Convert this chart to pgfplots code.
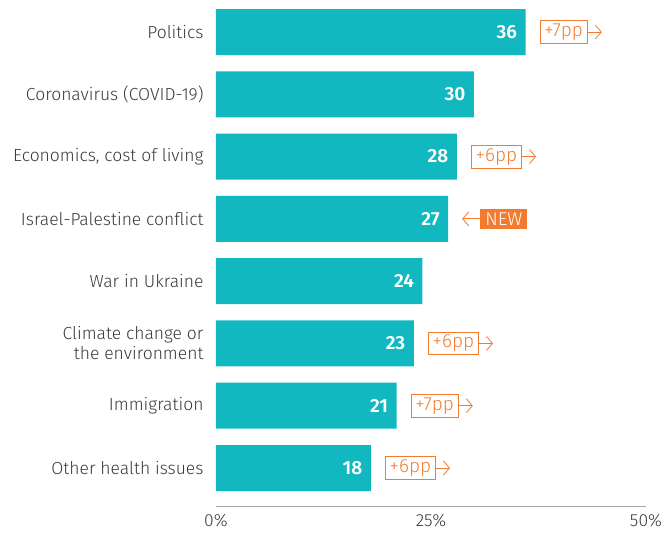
\documentclass[border=0pt]{standalone}
\usepackage{pgfplots}
\pgfplotsset{compat=1.18}
\usetikzlibrary{arrows.meta}
\usepackage{fontspec}
\setmainfont{Fira Sans}[UprightFont={* Light}, BoldFont={* SemiBold}]
\definecolor{teal1}{HTML}{12B8C0}
\definecolor{orng}{HTML}{F37B30}
\definecolor{txt}{HTML}{3A3A3A}
\begin{document}
\begin{tikzpicture}[
  delta/.style={draw=orng, text=orng, line width=0.8pt, inner xsep=4.5pt, inner ysep=3pt, anchor=west, font=\fontsize{19}{19}\selectfont},
  arr/.style={draw=orng, line width=0.8pt, -{Straight Barb[length=6pt,width=14pt]}}
]
\useasboundingbox (-216pt,-27pt) rectangle (454pt,507pt);
\begin{axis}[
    at={(0pt,0pt)}, anchor=south west,
    scale only axis,
    width=430pt, height=507pt,
    xbar, bar width=46pt,
    xmin=0, xmax=50,
    ymin=-0.626, ymax=7.514,
    axis x line*=bottom,
    axis y line*=left,
    x axis line style={draw=gray!70, line width=1pt, -},
    y axis line style={draw=none},
    /pgf/number format/assume math mode=true,
    xtick={0,25,50},
    xticklabels={0\%,25\%,50\%},
    xticklabel style={font=\fontsize{17.5}{18}\selectfont, text=txt, yshift=-4pt},
    ytick={0,...,7},
    yticklabels={Other health issues,Immigration,{Climate change or\\the environment},War in Ukraine,Israel-Palestine conflict,{Economics, cost of living},Coronavirus (COVID-19),Politics},
    yticklabel style={font=\fontsize{17.5}{20}\selectfont, text=txt, align=right, xshift=-9pt},
    major tick length=0pt,
    clip=false,
    nodes near coords,
    point meta=x,
    every node near coord/.append style={anchor=east, xshift=-5pt, text=white, font=\bfseries\fontsize{19}{20}\selectfont},
]
\addplot[fill=teal1, draw=none] table {
x y
36 7
30 6
28 5
27 4
24 3
23 2
21 1
18 0
};
\node[delta] (a7) at ([xshift=14pt]axis cs:36,7) {+7pp};
\node[delta] (a5) at ([xshift=14pt]axis cs:28,5) {+6pp};
\node[delta] (a2) at ([xshift=14pt]axis cs:23,2) {+6pp};
\node[delta] (a1) at ([xshift=14pt]axis cs:21,1) {+7pp};
\node[delta] (a0) at ([xshift=14pt]axis cs:18,0) {+6pp};
\node[anchor=west, fill=orng, text=white, inner xsep=5pt, inner ysep=4pt, font=\fontsize{18.5}{19}\selectfont] (n4) at ([xshift=32pt]axis cs:27,4) {NEW};
\end{axis}
\foreach \n in {a7,a5,a2,a1,a0}{
  \draw[arr] (\n.east) -- ([xshift=14pt]\n.east);
}
\draw[arr] (n4.west) -- ([xshift=-18pt]n4.west);
\end{tikzpicture}
\end{document}
